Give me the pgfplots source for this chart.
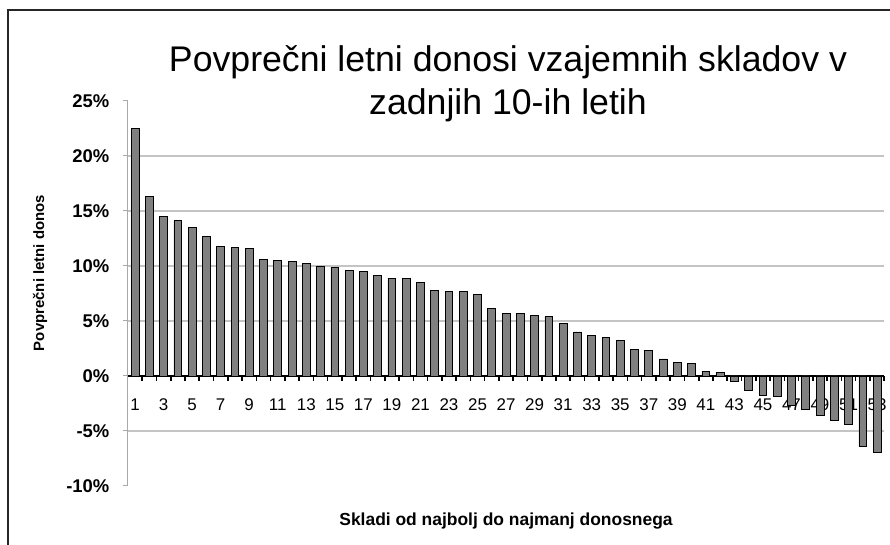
\documentclass[border=0pt]{standalone}
\usepackage{pgfplots}
\pgfplotsset{compat=1.18}
\usepackage{fontspec}
\setmainfont{Liberation Sans}
\definecolor{barfill}{HTML}{808080}
\definecolor{gridc}{HTML}{C4C4C4}
\definecolor{yaxc}{HTML}{A8A8A8}
\begin{document}
\begin{tikzpicture}[x=1bp,y=1bp]
\useasboundingbox (0,0) rectangle (890,545);
\fill[white] (0,0) rectangle (890,545);
\draw[line width=2bp, black!85] (8,-10) -- (8,535) -- (900,535);
\begin{axis}[
  at={(127.9bp,59bp)}, anchor=south west,
  scale only axis, width=756.3bp, height=385bp,
  xmin=0.5, xmax=53.5, ymin=-10, ymax=25,
  axis x line=middle, axis y line=left,
  x axis line style={-, black, line width=1.6bp},
  y axis line style={-, yaxc, line width=1bp},
  tick align=outside,
  xtick={0.5,1.5,...,53.5}, xticklabels={},
  major tick length=5bp,
  xtick style={black, line width=1.6bp},
  xticklabel style={font=\fontsize{17}{17}\selectfont, yshift=-19bp},
  extra x ticks={1,3,...,53},
  extra x tick labels={1,3,5,7,9,11,13,15,17,19,21,23,25,27,29,31,33,35,37,39,41,43,45,47,49,51,53},
  extra x tick style={major tick length=0bp},
  ytick={-10,-5,...,25},
  yticklabels={-10\%,-5\%,0\%,5\%,10\%,15\%,20\%,25\%},
  ytick style={yaxc, line width=1bp},
  yticklabel style={font=\bfseries\fontsize{18.5}{18.5}\selectfont, xshift=-10bp},
  extra y ticks={-5,5,10,15,20},
  extra y tick labels={},
  extra y tick style={grid=major, major tick length=0bp},
  major grid style={gridc, line width=1.3bp},
  ybar, bar width=7.8bp,
  clip=false,
]
\addplot[fill=barfill, draw=black, line width=0.8bp] coordinates {
(1,22.5) (2,16.3) (3,14.5) (4,14.1) (5,13.5) (6,12.7) (7,11.8) (8,11.7) (9,11.6) (10,10.6)
(11,10.5) (12,10.4) (13,10.2) (14,10.0) (15,9.9) (16,9.6) (17,9.5) (18,9.15) (19,8.9) (20,8.9)
(21,8.5) (22,7.8) (23,7.7) (24,7.7) (25,7.4) (26,6.1) (27,5.7) (28,5.7) (29,5.5) (30,5.4)
(31,4.8) (32,4.0) (33,3.7) (34,3.5) (35,3.2) (36,2.45) (37,2.3) (38,1.55) (39,1.2) (40,1.1)
(41,0.4) (42,0.3) (43,-0.45) (44,-1.3) (45,-1.8) (46,-1.9) (47,-2.7) (48,-3.0) (49,-3.6) (50,-4.0)
(51,-4.4) (52,-6.4) (53,-6.95)
};
\end{axis}
\node[anchor=base, font=\fontsize{35.8}{35.8}\selectfont, inner sep=0pt] at (508,473.3) {Povprečni letni donosi vzajemnih skladov v};
\node[anchor=base, font=\fontsize{35.8}{35.8}\selectfont, inner sep=0pt] at (508,430) {zadnjih 10-ih letih};
\node[anchor=base, font=\bfseries\fontsize{17.5}{17.5}\selectfont, inner sep=0pt] at (506,19) {Skladi od najbolj do najmanj donosnega};
\node[anchor=base, rotate=90, font=\bfseries\fontsize{15}{15}\selectfont, inner sep=0pt] at (44,272) {Povprečni letni donos};
\end{tikzpicture}
\end{document}
